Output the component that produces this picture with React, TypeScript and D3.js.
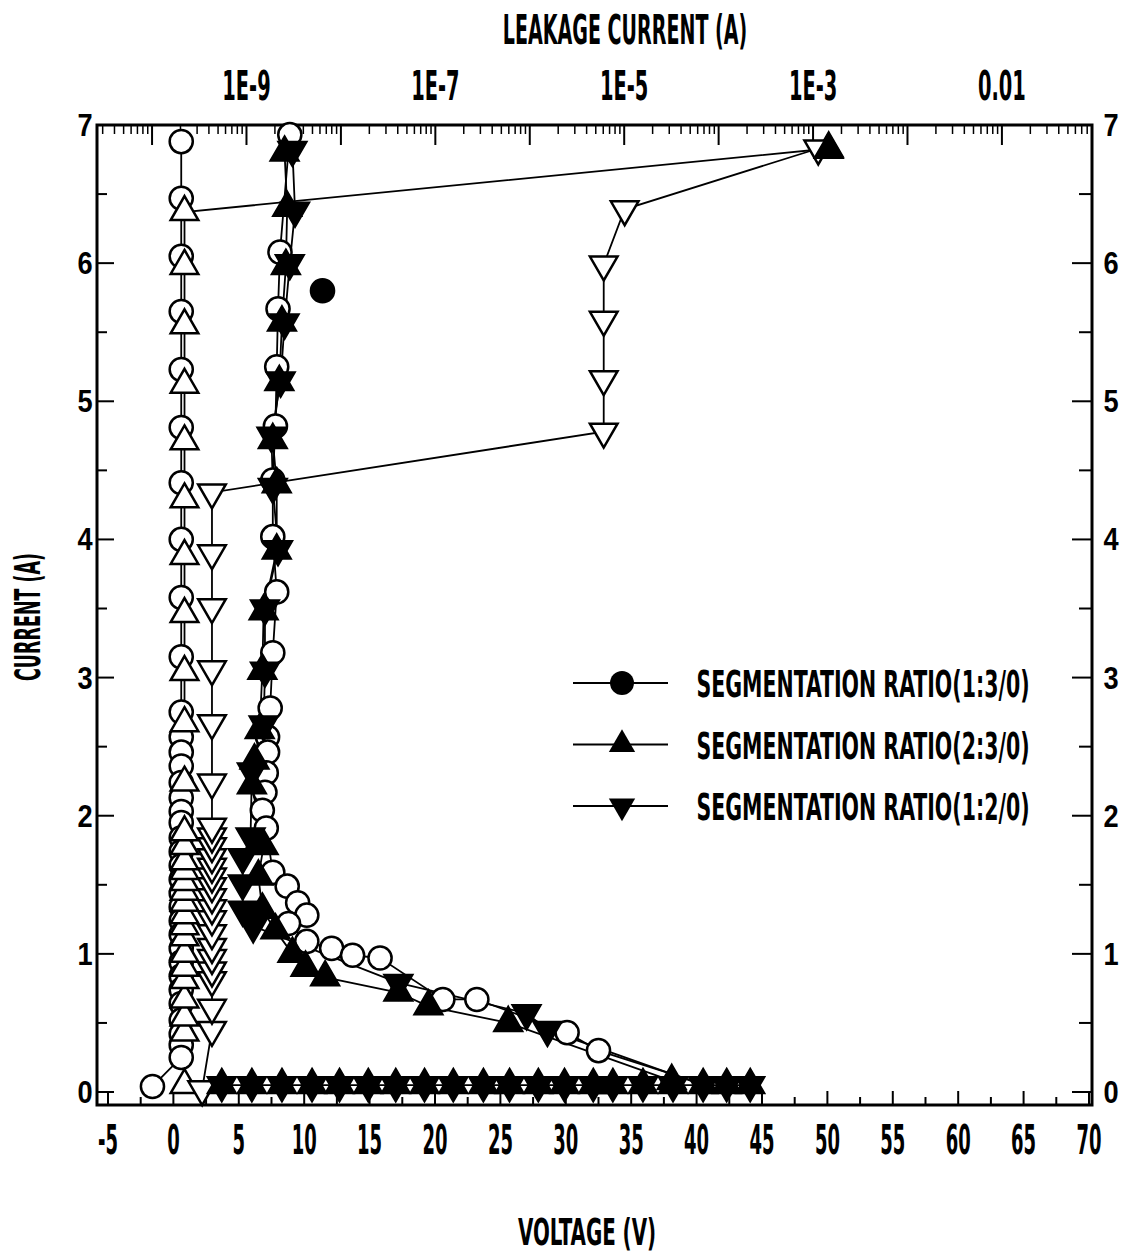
import React, { useEffect, useRef } from 'react';
import * as d3 from 'd3';

// voltage (V) / current (A) readings
const openCircleColV = [0.6, 0.6, 0.6, 0.6, 0.6, 0.6, 0.6, 0.6, 0.6, 0.6, 0.6, 0.6, 0.6, 0.6, 0.6, 0.6, 0.6, 0.6, 0.6, 0.6, 0.6, 0.6, 0.6, 0.6, 0.6, 0.6, 0.6, 0.6, 0.6, 0.6, 0.6, 0.6, 0.6, 0.6, 0.6, -1.6];
const openCircleColI = [6.88, 6.47, 6.05, 5.65, 5.23, 4.81, 4.41, 4.0, 3.58, 3.15, 2.75, 2.57, 2.46, 2.36, 2.24, 2.13, 2.03, 1.95, 1.84, 1.74, 1.64, 1.54, 1.44, 1.34, 1.24, 1.14, 1.04, 0.94, 0.84, 0.74, 0.64, 0.52, 0.42, 0.34, 0.25, 0.04];

const openUpV = [0.85, 0.85, 0.85, 0.85, 0.85, 0.85, 0.85, 0.85, 0.85, 0.85, 0.85, 0.85, 0.85, 0.85, 0.85, 0.85, 0.85, 0.85, 0.85, 0.85, 0.85, 0.85, 0.85, 0.85, 0.85, 0.85, 0.85, 0.85, 50.1];
const openUpI = [0.05, 0.43, 0.54, 0.67, 0.81, 0.9, 1.0, 1.12, 1.2, 1.28, 1.37, 1.45, 1.52, 1.6, 1.67, 1.78, 1.88, 2.24, 2.67, 3.04, 3.46, 3.88, 4.29, 4.71, 5.12, 5.55, 5.98, 6.37, 6.83];

const openDownV = [2.2, 2.95, 2.95, 2.95, 2.95, 2.95, 2.95, 2.95, 2.95, 2.95, 2.95, 2.95, 2.95, 2.95, 2.95, 2.95, 2.95, 2.95, 2.95, 2.95, 2.95, 2.95, 2.95, 2.95, 32.9, 32.9, 32.9, 32.9, 34.5, 49.3];
const openDownI = [0.02, 0.45, 0.61, 0.81, 0.88, 0.97, 1.05, 1.15, 1.25, 1.33, 1.41, 1.49, 1.56, 1.63, 1.7, 1.78, 1.85, 1.92, 2.24, 2.67, 3.06, 3.51, 3.9, 4.34, 4.78, 5.16, 5.59, 5.99, 6.39, 6.83];

const openCircleCurveV = [8.9, 8.15, 8.0, 7.9, 7.8, 7.6, 7.6, 7.9, 7.6, 7.4, 7.2, 7.2, 7.1, 7.0, 6.8, 7.1, 7.6, 8.7, 9.5, 10.2, 8.8, 10.2, 12.1, 13.7, 15.8, 20.6, 23.2, 30.1, 32.5, 40.4];
const openCircleCurveI = [6.93, 6.08, 5.67, 5.25, 4.82, 4.43, 4.02, 3.62, 3.18, 2.78, 2.57, 2.46, 2.31, 2.17, 2.04, 1.91, 1.59, 1.49, 1.37, 1.28, 1.22, 1.09, 1.04, 0.99, 0.97, 0.67, 0.67, 0.43, 0.3, 0.06];

// 2:3/0
const filledUpV = [8.5, 8.7, 8.6, 8.3, 8.1, 7.6, 7.9, 7.9, 6.9, 6.8, 6.6, 6.2, 6.0, 6.9, 6.5, 6.8, 7.8, 9.1, 10.1, 11.6, 17.2, 19.5, 25.6, 38.1];
const filledUpI = [6.8, 6.4, 5.98, 5.57, 5.14, 4.72, 4.4, 3.92, 3.48, 3.05, 2.62, 2.4, 2.22, 1.78, 1.56, 1.32, 1.17, 1.0, 0.9, 0.83, 0.72, 0.62, 0.5, 0.08];
const filledUpTopV = [50.1];
const filledUpTopI = [6.82];

// 1:2/0
const filledDownV = [9.1, 9.3, 8.9, 8.5, 8.2, 7.5, 7.6, 8.0, 7.0, 7.0, 6.9, 6.0, 5.9, 5.3, 5.3, 5.3, 6.1, 17.2, 27.0, 28.6, 40.5];
const filledDownI = [6.82, 6.38, 6.0, 5.57, 5.15, 4.75, 4.38, 3.93, 3.5, 3.05, 2.66, 2.32, 1.85, 1.7, 1.51, 1.32, 1.2, 0.79, 0.57, 0.45, 0.05];

// 1:3/0
const filledCircleV = [11.4];
const filledCircleI = [5.8];

// row along the bottom (both filled series)
const bottomRowV = [3.7, 6.0, 8.3, 10.6, 12.7, 14.9, 17.0, 19.2, 21.4, 23.7, 25.7, 27.9, 29.9, 32.1, 33.6, 35.9, 38.2, 40.5, 42.3, 44.1];
const bottomRowI = [0.05, 0.05, 0.05, 0.05, 0.05, 0.05, 0.05, 0.05, 0.05, 0.05, 0.05, 0.05, 0.05, 0.05, 0.05, 0.05, 0.05, 0.05, 0.05, 0.05];

const voltageTicks = [-5, 0, 5, 10, 15, 20, 25, 30, 35, 40, 45, 50, 55, 60, 65, 70];
const currentTicks = [0, 1, 2, 3, 4, 5, 6, 7];
const leakageTickValues = [1e-9, 1e-7, 1e-5, 1e-3, 1e-1];
const leakageTickLabels = ['1E-9', '1E-7', '1E-5', '1E-3', '0.01'];
const legendLabels = ['SEGMENTATION RATIO(1:3/0)', 'SEGMENTATION RATIO(2:3/0)', 'SEGMENTATION RATIO(1:2/0)'];

const zip = (xs: number[], ys: number[]) => xs.map((v, i) => [v, ys[i]] as [number, number]);

const App = () => {
  const svgRef = useRef<SVGSVGElement>(null);

  useEffect(() => {
    const left = 97, right = 1092, top = 125, bottom = 1105;
    const svg = d3.select(svgRef.current);
    svg.selectAll('*').remove();

    const x = d3.scaleLinear().domain([-5.84, 70.23]).range([left, right]);
    const y = d3.scaleLinear().domain([-0.094, 7]).range([bottom, top]);
    const xTop = d3.scaleLog().domain([Math.pow(10, -10.583), Math.pow(10, -0.046)]).range([left, right]);

    const condFont = "'DejaVu Sans Condensed', 'Liberation Sans Narrow', sans-serif";
    const cond = (tx: number, ty: number, txt: string, size: number, sx: number, rot = 0) =>
      svg.append('text')
        .attr('transform', `translate(${tx},${ty}) rotate(${rot}) scale(${sx},1)`)
        .attr('text-anchor', 'middle')
        .attr('font-family', condFont)
        .attr('font-weight', 'bold')
        .attr('font-size', size)
        .attr('fill', '#000')
        .text(txt);

    // titles
    cond(625, 44, 'LEAKAGE CURRENT (A)', 40, 0.53);
    cond(587, 1245, 'VOLTAGE (V)', 38, 0.58);
    cond(40, 617, 'CURRENT (A)', 36, 0.54, -90);

    // ticks
    const tk = svg.append('g').attr('stroke', '#000').attr('stroke-width', 2);
    d3.range(-5, 70.1, 2.5).forEach(v => {
      const major = v % 5 === 0;
      tk.append('line').attr('x1', x(v)).attr('x2', x(v)).attr('y1', bottom).attr('y2', bottom - (major ? 14 : 8));
    });
    d3.range(0, 7.01, 0.5).forEach(c => {
      const major = c % 1 === 0;
      tk.append('line').attr('y1', y(c)).attr('y2', y(c)).attr('x1', left).attr('x2', left + (major ? 17 : 10));
      tk.append('line').attr('y1', y(c)).attr('y2', y(c)).attr('x1', right).attr('x2', right - (major ? 20 : 13));
    });
    const logTicks: number[] = [];
    for (let e = -11; e <= 0; e++) for (let m = 1; m <= 9; m++) logTicks.push(m * Math.pow(10, e));
    const [d0, d1] = xTop.domain();
    logTicks.filter(t => t >= d0 && t <= d1).forEach(t => {
      const major = Math.abs(Math.log10(t) - Math.round(Math.log10(t))) < 1e-6;
      tk.append('line').attr('x1', xTop(t)).attr('x2', xTop(t)).attr('y1', top).attr('y2', top + (major ? 20 : 9))
        .attr('stroke-width', major ? 2 : 1.5);
    });

    // tick labels
    voltageTicks.forEach(v => cond(x(v), 1154, String(v), 40, 0.5));
    leakageTickValues.forEach((t, i) => cond(xTop(t), 100, leakageTickLabels[i], 40, 0.54));
    currentTicks.forEach(c => {
      [85, 1111].forEach(px => svg.append('text')
        .attr('transform', `translate(${px},${y(c) + 11}) scale(0.85,1)`)
        .attr('text-anchor', 'middle')
        .attr('font-family', "'Liberation Sans', Arial, sans-serif")
        .attr('font-weight', 'bold')
        .attr('font-size', 32)
        .text(String(c)));
    });

    // frame
    svg.append('rect')
      .attr('x', left).attr('y', top).attr('width', right - left).attr('height', bottom - top)
      .attr('fill', 'none').attr('stroke', '#000').attr('stroke-width', 3);

    const line = d3.line<[number, number]>().x(d => x(d[0])).y(d => y(d[1]));
    const plot = svg.append('g');
    const drawLine = (pts: [number, number][]) =>
      plot.append('path').datum(pts).attr('d', line).attr('fill', 'none').attr('stroke', '#000').attr('stroke-width', 1.8);

    const circleSym = d3.symbol().type(d3.symbolCircle).size(420);
    const triSym = d3.symbol().type(d3.symbolTriangle).size(330);
    const drawMarks = (pts: [number, number][], kind: 'circle' | 'up' | 'down', filled: boolean) => {
      plot.append('g').selectAll('path').data(pts).join('path')
        .attr('d', kind === 'circle' ? circleSym() : triSym())
        .attr('transform', d => `translate(${x(d[0])},${y(d[1])})${kind === 'down' ? ' rotate(180)' : ''}`)
        .attr('fill', filled ? '#000' : '#fff')
        .attr('stroke', '#000')
        .attr('stroke-width', 2.5);
    };

    const circleCol = zip(openCircleColV, openCircleColI);
    const openUp = zip(openUpV, openUpI);
    const openDown = zip(openDownV, openDownI);
    const circleCurve = zip(openCircleCurveV, openCircleCurveI);
    const fUp = zip(filledUpV, filledUpI);
    const fDown = zip(filledDownV, filledDownI);
    const bottomRow = zip(bottomRowV, bottomRowI);

    [circleCol, openUp, openDown, circleCurve, fUp, fDown, bottomRow].forEach(drawLine);

    drawMarks(circleCol, 'circle', false);
    drawMarks(openUp, 'up', false);
    drawMarks(openDown, 'down', false);
    drawMarks(circleCurve.slice(0, -1), 'circle', false);
    drawMarks(fUp, 'up', true);
    drawMarks(zip(filledUpTopV, filledUpTopI), 'up', true);
    drawMarks(fDown.slice(0, -1), 'down', true);
    drawMarks(bottomRow, 'up', true);
    drawMarks(bottomRow, 'down', true);
    drawMarks(zip(filledCircleV, filledCircleI), 'circle', true);

    // legend
    const legendKinds: ('circle' | 'up' | 'down')[] = ['circle', 'up', 'down'];
    const legendSym = [d3.symbol().type(d3.symbolCircle).size(450), d3.symbol().type(d3.symbolTriangle).size(300)];
    legendLabels.forEach((lab, i) => {
      const ly = 683 + i * 61.5;
      svg.append('line').attr('x1', 573).attr('x2', 668).attr('y1', ly).attr('y2', ly)
        .attr('stroke', '#000').attr('stroke-width', 2);
      svg.append('path')
        .attr('d', legendKinds[i] === 'circle' ? legendSym[0]() : legendSym[1]())
        .attr('transform', `translate(622,${ly})${legendKinds[i] === 'down' ? ' rotate(180)' : ''}`)
        .attr('fill', '#000');
      cond(863, ly + 14, lab, 38, 0.6);
    });
  }, []);

  return (
    <svg ref={svgRef} width={1126} height={1258}
      style={{ position: 'absolute', left: 0, top: 0, background: '#fff' }} />
  );
};

export default App;
